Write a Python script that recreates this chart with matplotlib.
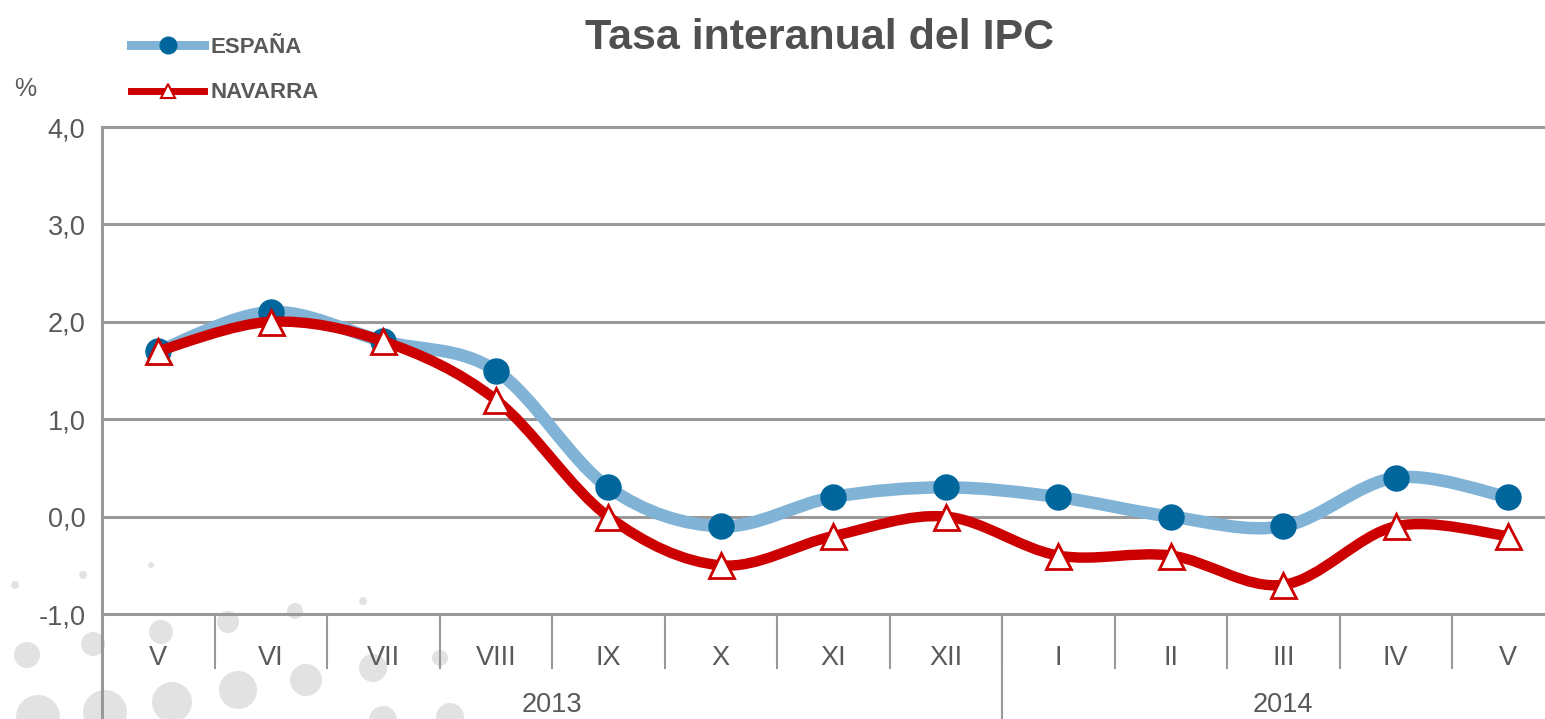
import matplotlib
matplotlib.use("Agg")
import matplotlib.pyplot as plt
from matplotlib.path import Path
from matplotlib.patches import PathPatch, Ellipse
from matplotlib.lines import Line2D
import matplotlib.transforms as mtransforms

# data
months = ["V", "VI", "VII", "VIII", "IX", "X", "XI", "XII", "I", "II", "III", "IV", "V"]
years = ["2013", "2014"]
year_sizes = [8, 5]  # number of months in each year
espana = [1.7, 2.1, 1.8, 1.5, 0.3, -0.1, 0.2, 0.3, 0.2, 0.0, -0.1, 0.4, 0.2]
navarra = [1.7, 2.0, 1.8, 1.2, 0.0, -0.5, -0.2, 0.0, -0.4, -0.4, -0.7, -0.1, -0.2]
yticks = [-1, 0, 1, 2, 3, 4]

# decorative grey dots of the background (x px, y px, radius px)
deco_dots = [(15, 585, 4), (83, 575, 4), (151, 565, 3), (295, 611, 8), (363, 601, 4),
             (27, 655, 13), (93, 644, 12), (161, 632, 12), (228, 622, 11),
             (440, 658, 8), (373, 668, 14), (306, 680, 16), (238, 690, 19),
             (172, 702, 20), (105, 712, 22), (38, 717, 22), (383, 720, 14), (450, 717, 14)]

GREY = "#595959"
LINE_GREY = "#999999"
BLUE_LINE = "#80b3d6"
BLUE_MARK = "#00669b"
RED = "#cc0000"

W, H = 1545, 719
fig = plt.figure(figsize=(W / 100, H / 100), dpi=100)

for (cx, cy, r) in deco_dots:
    fig.patches.append(Ellipse((cx / W, 1 - cy / H), 2 * r / W, 2 * r / H,
                               transform=fig.transFigure,
                               facecolor="#e2e2e2", edgecolor="none", zorder=-5))

# axes run past the right edge of the picture, like the original
ax = fig.add_axes([102 / W, 1 - 614 / H, 1462.5 / W, 487 / H])
ax.patch.set_alpha(0)
ax.set_xlim(-0.5, len(months) - 0.5)
ax.set_ylim(yticks[0], yticks[-1])


def smooth_path(xs, ys):
    # Excel-like smoothed line: cubic bezier through every point
    pts = list(zip(xs, ys))
    n = len(pts)
    verts = [pts[0]]
    codes = [Path.MOVETO]
    for i in range(n - 1):
        p0 = pts[max(i - 1, 0)]
        p1 = pts[i]
        p2 = pts[i + 1]
        p3 = pts[min(i + 2, n - 1)]
        c1 = (p1[0] + (p2[0] - p0[0]) / 6, p1[1] + (p2[1] - p0[1]) / 6)
        c2 = (p2[0] - (p3[0] - p1[0]) / 6, p2[1] - (p3[1] - p1[1]) / 6)
        verts += [c1, c2, p2]
        codes += [Path.CURVE4] * 3
    return Path(verts, codes)


x = list(range(len(months)))

ax.add_patch(PathPatch(smooth_path(x, espana), fill=False, edgecolor=BLUE_LINE,
                       linewidth=9, capstyle="round", joinstyle="round", zorder=3))
ax.plot(x, espana, linestyle="none", marker="o", markersize=18,
        markerfacecolor=BLUE_MARK, markeredgecolor=BLUE_MARK, zorder=4, clip_on=False)
ax.add_patch(PathPatch(smooth_path(x, navarra), fill=False, edgecolor=RED,
                       linewidth=7.5, capstyle="round", joinstyle="round", zorder=5))
ax.plot(x, navarra, linestyle="none", marker="^", markersize=18, markeredgewidth=2,
        markerfacecolor="white", markeredgecolor=RED, zorder=6, clip_on=False)

# grid
for yv in yticks:
    ax.axhline(yv, color=LINE_GREY, linewidth=2.2, zorder=1, clip_on=False)
for s in ax.spines.values():
    s.set_visible(False)

ax.set_yticks(yticks)
ax.set_yticklabels([("%.1f" % v).replace(".", ",") for v in yticks])
ax.tick_params(axis="y", length=0, pad=12, labelsize=19.5, labelcolor=GREY)
ax.set_xticks(x)
ax.set_xticklabels(months, fontfamily=["Liberation Sans Narrow", "Liberation Sans", "DejaVu Sans"])
ax.tick_params(axis="x", length=0, pad=22, labelsize=19.5, labelcolor=GREY)
for lab in ax.get_yticklabels():
    lab.set_fontfamily(["Liberation Sans", "DejaVu Sans"])

# category table below the plot
trans = mtransforms.blended_transform_factory(ax.transData, ax.transAxes)
low = -(H - 614) / 487
ax.add_line(Line2D([-0.5, -0.5], [1, low], transform=trans, color=LINE_GREY,
                   linewidth=2.2, clip_on=False))
for i in range(len(months) - 1):
    ax.add_line(Line2D([i + 0.5, i + 0.5], [0, -0.111], transform=trans,
                       color=LINE_GREY, linewidth=1.5, clip_on=False))
start = -0.5
for yr, n in zip(years, year_sizes):
    ax.text(start + n / 2, -0.187, yr, transform=trans, ha="center", va="center",
            fontsize=19.5, color=GREY, family=["Liberation Sans Narrow", "Liberation Sans", "DejaVu Sans"])
    start += n
    if start < len(months) - 0.5:
        ax.add_line(Line2D([start, start], [0, low], transform=trans,
                           color=LINE_GREY, linewidth=1.5, clip_on=False))

fig.text(820 / W, 1 - 38 / H, "Tasa interanual del IPC", ha="center", va="center",
         fontsize=31, fontweight="bold", color="#505050", family="Liberation Sans")
fig.text(25 / W, 1 - 89 / H, "%", ha="center", va="center", fontsize=18, color=GREY,
         family="Liberation Sans")

handles = [Line2D([], [], color=BLUE_LINE, linewidth=6.5, marker="o", markersize=12,
                  markerfacecolor=BLUE_MARK, markeredgecolor=BLUE_MARK),
           Line2D([], [], color=RED, linewidth=5, marker="^", markersize=10, markeredgewidth=1.5,
                  markerfacecolor="white", markeredgecolor=RED)]
fig.legend(handles, ["ESPAÑA", "NAVARRA"], loc="upper left",
           bbox_to_anchor=(131 / W, 1 - 37 / H), frameon=False, borderpad=0, borderaxespad=0,
           handlelength=3.3, handletextpad=0.3, labelspacing=1.1,
           prop={"family": "Liberation Sans", "weight": "bold", "size": 16}, labelcolor=GREY)

fig.savefig("out.png", dpi=100)
